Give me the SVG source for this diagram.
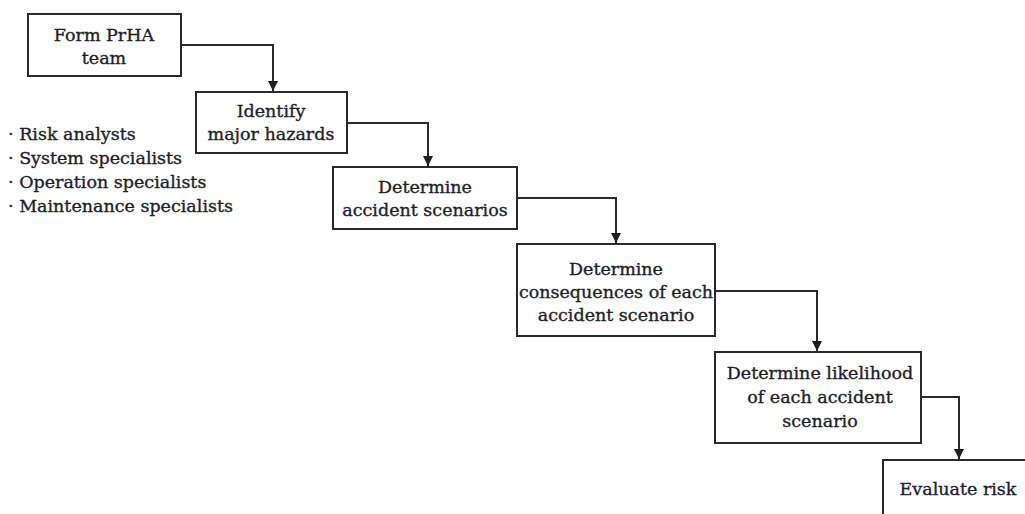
<svg xmlns="http://www.w3.org/2000/svg" width="1025" height="514" viewBox="0 0 1025 514">
  <style>
    .box { fill: #ffffff; stroke: #2a2a2a; stroke-width: 2; }
    .lbl { font-family: "DejaVu Serif", "Liberation Serif", serif; font-size: 17.5px; fill: #1e1e2a; stroke: #1e1e2a; stroke-width: 0.35; text-anchor: middle; }
    .lst { font-family: "DejaVu Serif", "Liberation Serif", serif; font-size: 17.5px; fill: #1e1e2a; stroke: #1e1e2a; stroke-width: 0.35; }
    .conn { fill: none; stroke: #2a2a2a; stroke-width: 2; }
  </style>
  <defs>
    <marker id="arrow" viewBox="0 0 10 10" refX="10" refY="5" markerWidth="5" markerHeight="5" orient="auto" markerUnits="strokeWidth">
      <path d="M0,0 L10,5 L0,10 z" fill="#1e1e1e"/>
    </marker>
  </defs>
  <rect width="1025" height="514" fill="#ffffff"/>

  <g id="connectors">
    <path class="conn" d="M181,45 H273 V91" marker-end="url(#arrow)"/>
    <path class="conn" d="M347,123 H428 V166" marker-end="url(#arrow)"/>
    <path class="conn" d="M517,198 H616 V243" marker-end="url(#arrow)"/>
    <path class="conn" d="M715,291 H817 V351" marker-end="url(#arrow)"/>
    <path class="conn" d="M921,397 H959 V459" marker-end="url(#arrow)"/>
  </g>

  <g id="form-team">
    <rect class="box" x="28" y="14" width="153" height="62"/>
    <text class="lbl" x="104" y="41">Form PrHA</text>
    <text class="lbl" x="104" y="64">team</text>
  </g>

  <g id="team-members">
    <text class="lst" x="8" y="140">· Risk analysts</text>
    <text class="lst" x="8" y="164">· System specialists</text>
    <text class="lst" x="8" y="188">· Operation specialists</text>
    <text class="lst" x="8" y="212">· Maintenance specialists</text>
  </g>

  <g id="identify-hazards">
    <rect class="box" x="196" y="92" width="151" height="61"/>
    <text class="lbl" x="271" y="117">Identify</text>
    <text class="lbl" x="271" y="140">major hazards</text>
  </g>

  <g id="accident-scenarios">
    <rect class="box" x="333" y="167" width="184" height="62"/>
    <text class="lbl" x="425" y="193">Determine</text>
    <text class="lbl" x="425" y="216">accident scenarios</text>
  </g>

  <g id="consequences">
    <rect class="box" x="517" y="244" width="198" height="92"/>
    <text class="lbl" x="616" y="275">Determine</text>
    <text class="lbl" x="616" y="298">consequences of each</text>
    <text class="lbl" x="616" y="321">accident scenario</text>
  </g>

  <g id="likelihood">
    <rect class="box" x="715" y="352" width="206" height="91"/>
    <text class="lbl" x="820" y="379">Determine likelihood</text>
    <text class="lbl" x="820" y="403">of each accident</text>
    <text class="lbl" x="820" y="427">scenario</text>
  </g>

  <g id="evaluate-risk">
    <rect class="box" x="883" y="460" width="160" height="70"/>
    <text class="lbl" x="958" y="495">Evaluate risk</text>
  </g>
</svg>
